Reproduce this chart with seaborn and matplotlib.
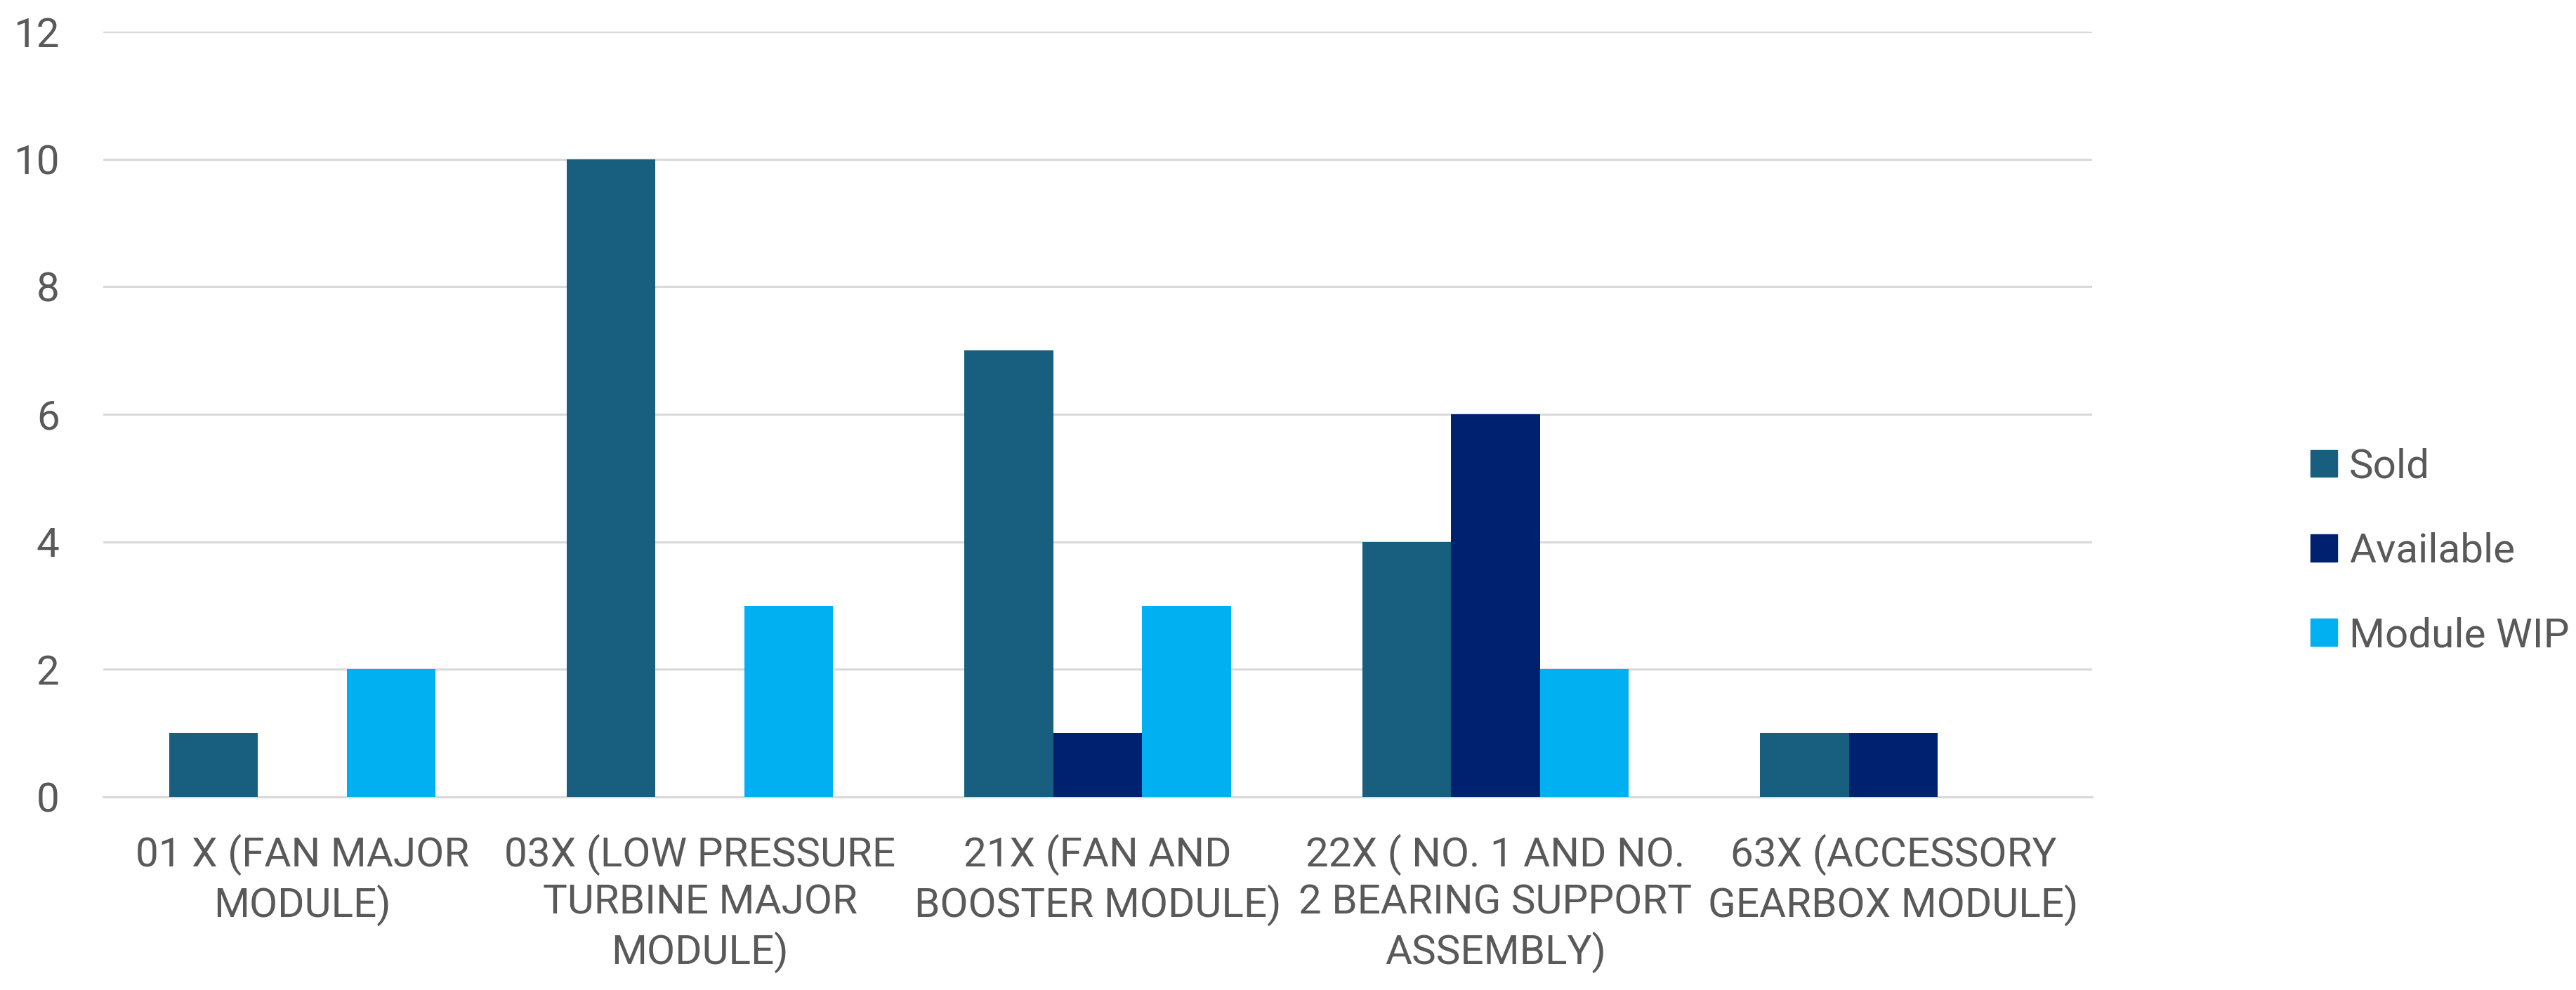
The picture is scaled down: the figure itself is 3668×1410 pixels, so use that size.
import matplotlib
matplotlib.use("Agg")
import matplotlib.pyplot as plt
import seaborn as sns
import pandas as pd

categories = [
    "01 X (FAN MAJOR\nMODULE)",
    "03X (LOW PRESSURE\nTURBINE MAJOR\nMODULE)",
    "21X (FAN AND\nBOOSTER MODULE)",
    "22X ( NO. 1 AND NO.\n2 BEARING SUPPORT\nASSEMBLY)",
    "63X (ACCESSORY\nGEARBOX MODULE)",
]
series = ["Sold", "Available", "Module WIP"]
sold = [1, 10, 7, 4, 1]
available = [0, 0, 1, 6, 1]
module_wip = [2, 3, 3, 2, 0]
yticks = [0, 2, 4, 6, 8, 10, 12]

colors = {"Sold": "#175E7F", "Available": "#002070", "Module WIP": "#00B0F0"}

rows = []
for name, vals in zip(series, [sold, available, module_wip]):
    for cat, v in zip(categories, vals):
        rows.append({"Category": cat, "Series": name, "Value": v})
df = pd.DataFrame(rows)

sns.set_style("white")
plt.rcParams['font.family'] = ['Roboto', 'DejaVu Sans']
plt.rcParams['font.stretch'] = 'condensed'

fig, ax = plt.subplots(figsize=(36.68, 14.10), dpi=100)
fig.subplots_adjust(left=0.0401, right=0.8122, top=0.968, bottom=0.195)

sns.barplot(data=df, x="Category", y="Value", hue="Series", hue_order=series,
            palette=colors, width=0.67, saturation=1, linewidth=0, ax=ax, zorder=3)

ax.set_ylim(0, 12)
ax.set_yticks(yticks)
ax.set_xlim(-0.5, len(categories) - 0.5)
ax.yaxis.grid(True, color="#D9D9D9", linewidth=2.2, zorder=0)
ax.set_axisbelow(True)
for s in ["top", "right", "left"]:
    ax.spines[s].set_visible(False)
ax.spines["bottom"].set_color("#D9D9D9")
ax.spines["bottom"].set_linewidth(2.2)
ax.set_xlabel("")
ax.set_ylabel("")
ax.tick_params(axis="y", length=0, pad=45, labelsize=42, labelcolor="#595959")
ax.tick_params(axis="x", length=0, pad=38, labelsize=42, labelcolor="#595959")
for lbl in ax.get_xticklabels():
    lbl.set_linespacing(1.27)

ax.get_legend().remove()
handles = [plt.Rectangle((0, 0), 1, 1, color=colors[s]) for s in series]
fig.legend(handles, series, loc="center left", bbox_to_anchor=(0.897, 0.443),
           frameon=False, fontsize=42, labelcolor="#595959",
           handlelength=0.64, handleheight=0.64, handletextpad=0.3,
           labelspacing=1.12, borderpad=0, borderaxespad=0)

fig.savefig("out.png", dpi=100)
